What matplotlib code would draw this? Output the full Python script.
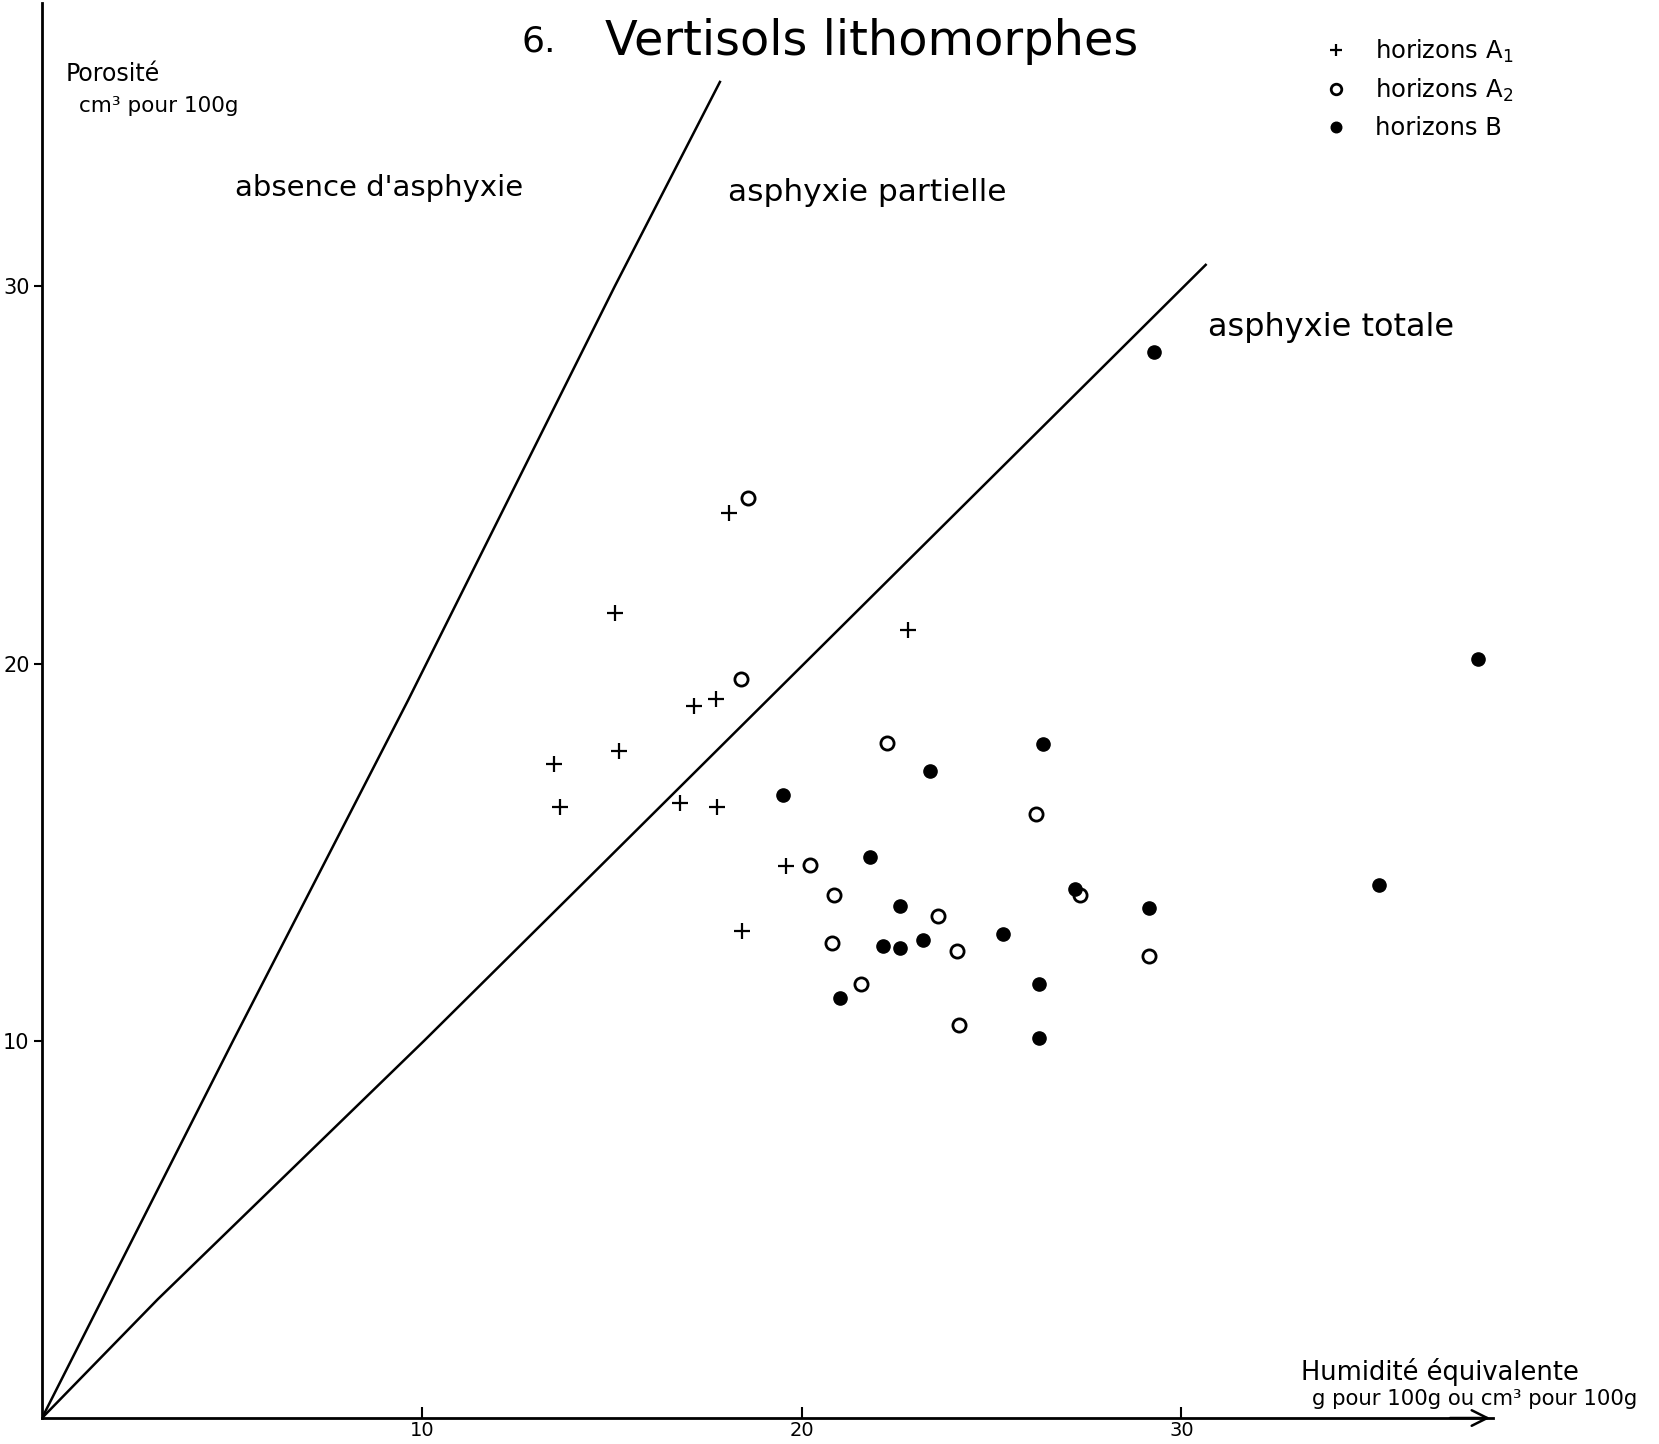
import numpy as np
import matplotlib.pyplot as plt

# horizons A1 (crosses)
a1_x = [18.1, 15.1, 22.8, 17.16, 17.74, 13.48, 15.18, 13.65, 16.8, 17.77, 19.6, 18.44]
a1_y = [23.98, 21.35, 20.9, 18.88, 19.05, 17.33, 17.67, 16.19, 16.3, 16.2, 14.64, 12.9]

# horizons A2 (open circles)
a2_x = [18.58, 18.41, 22.26, 26.18, 20.22, 20.86, 23.6, 20.8, 24.1, 29.16, 21.56, 24.15, 27.33]
a2_y = [24.4, 19.6, 17.9, 16.0, 14.66, 13.86, 13.32, 12.6, 12.37, 12.26, 11.5, 10.43, 13.86]

# horizons B (filled circles)
b_x = [29.28, 37.8, 26.35, 23.37, 19.5, 21.8, 27.2, 22.6, 29.14, 35.2,
       25.3, 23.2, 22.14, 22.6, 26.24, 21.0, 26.24]
b_y = [28.25, 20.11, 17.87, 17.14, 16.52, 14.87, 14.03, 13.58, 13.52, 14.14,
       12.82, 12.68, 12.51, 12.45, 11.5, 11.14, 10.07]

# limit lines
line1_x = [0, 5.03, 9.64, 15.08, 17.85]
line1_y = [0, 10, 19.03, 30, 35.42]
line2_x = [0, 3.05, 10.06, 14.7, 30.64]
line2_y = [0, 3.15, 10, 14.63, 30.57]

xticks = [10, 20, 30]
yticks = [10, 20, 30]

plt.rcParams['font.family'] = ['DejaVu Sans']

fig = plt.figure(figsize=(16.59, 14.44), dpi=100)
ax = fig.add_axes([0.02532, 0.0180, 0.8745, 0.9796])
ax.set_xlim(0, 38.2)
ax.set_ylim(0, 37.5)

ax.plot(line1_x, line1_y, color='black', lw=1.8)
ax.plot(line2_x, line2_y, color='black', lw=1.8)

ax.plot(a1_x, a1_y, linestyle='none', marker='+', markersize=11, mew=1.6,
        color='black', label='horizons A$_1$', clip_on=False)
ax.plot(a2_x, a2_y, linestyle='none', marker='o', markersize=9.5, mew=2.0,
        markerfacecolor='white', markeredgecolor='black', label='horizons A$_2$', clip_on=False)
ax.plot(b_x, b_y, linestyle='none', marker='o', markersize=9.5,
        color='black', label='horizons B', clip_on=False)

for side in ['top', 'right']:
    ax.spines[side].set_visible(False)
ax.spines['left'].set_linewidth(2.0)
ax.spines['bottom'].set_linewidth(2.0)
ax.annotate('', xy=(38.2, 0), xytext=(37.0, 0), annotation_clip=False,
            arrowprops=dict(arrowstyle='->', lw=1.8, mutation_scale=28, color='black'))

ax.set_xticks(xticks)
ax.set_yticks(yticks)
ax.tick_params(axis='x', direction='in', length=8, width=1.5, labelsize=14, pad=2)
ax.tick_params(axis='y', direction='out', length=6, width=1.5, labelsize=15, pad=3)

# titles and labels
ax.text(12.62, 36.5, '6.', fontsize=26, va='center', ha='left')
ax.text(14.82, 36.5, 'Vertisols lithomorphes', fontsize=34.5, va='center', ha='left')

ax.text(0.61, 35.62, 'Porosité', fontsize=17, va='center', ha='left')
ax.text(0.97, 34.78, 'cm³ pour 100g', fontsize=15.5, va='center', ha='left')

ax.text(33.15, 1.21, 'Humidité équivalente', fontsize=18.5, va='center', ha='left')
ax.text(33.43, 0.50, 'g pour 100g ou cm³ pour 100g', fontsize=15.3, va='center', ha='left')

ax.text(5.07, 32.6, "absence d'asphyxie", fontsize=21, va='center', ha='left')
ax.text(18.05, 32.48, 'asphyxie partielle', fontsize=22.5, va='center', ha='left')
ax.text(30.7, 28.9, 'asphyxie totale', fontsize=23, va='center', ha='left')

ax.legend(loc='upper left', bbox_to_anchor=(33.75, 36.6), bbox_transform=ax.transData,
          frameon=False, fontsize=17.5, handlelength=1.0, handletextpad=1.1,
          labelspacing=0.5, borderpad=0, borderaxespad=0, markerscale=0.8)

fig.savefig('out.png', dpi=100, facecolor='white')
